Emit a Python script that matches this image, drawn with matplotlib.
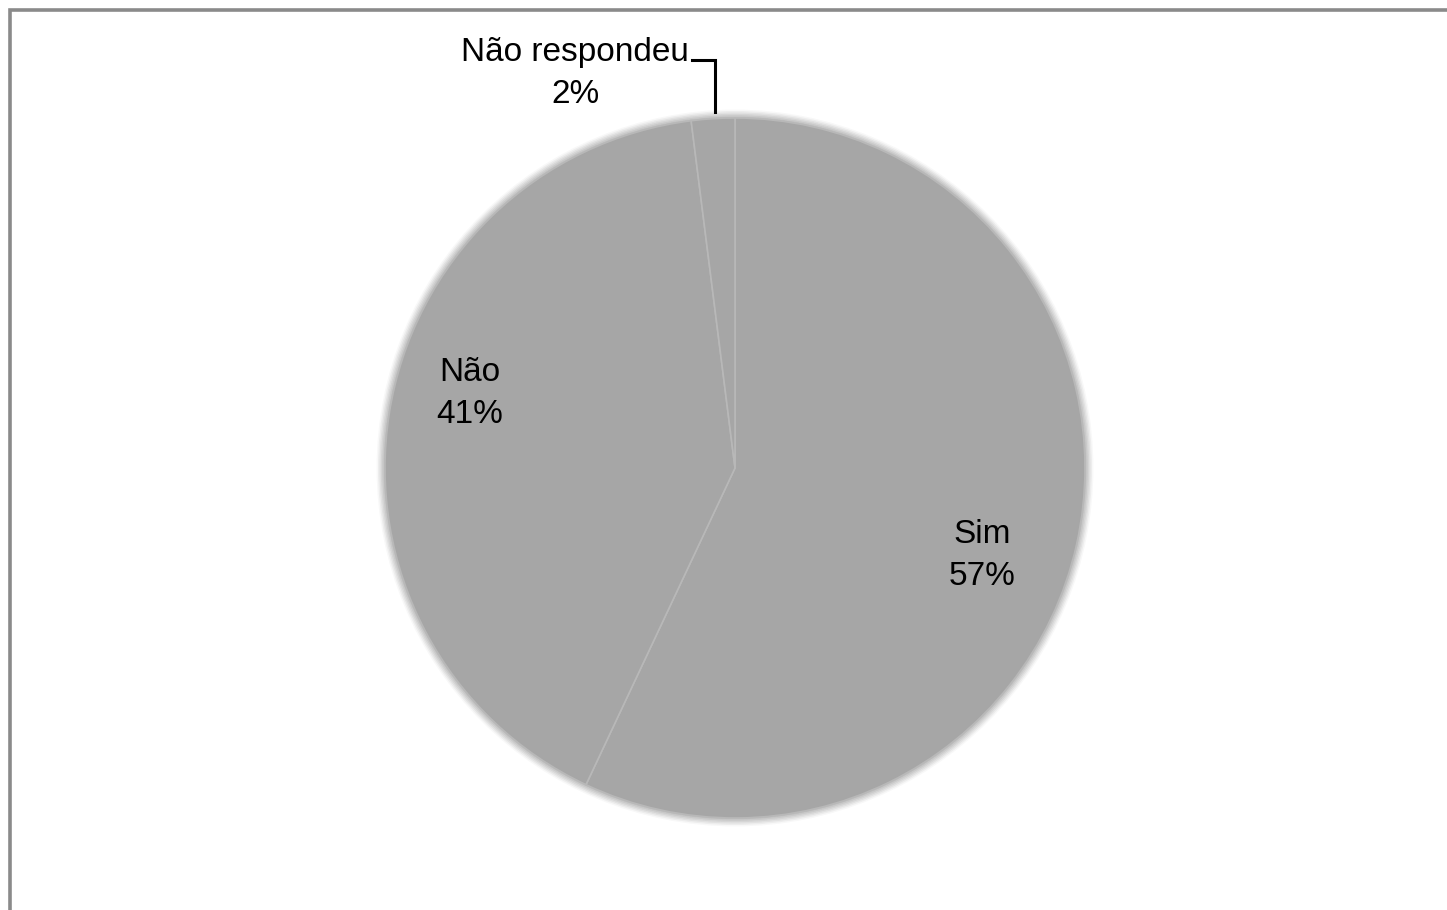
import matplotlib
matplotlib.use("Agg")
import matplotlib.pyplot as plt
from matplotlib.patches import Circle, Rectangle

# Survey answers
labels = ['Sim', 'Não', 'Não respondeu']
values = [57, 41, 2]
slice_color = '#a6a6a6'

plt.rcParams['font.family'] = ['Liberation Sans', 'DejaVu Sans']

W, H = 1447, 910
fig = plt.figure(figsize=(W / 100, H / 100), dpi=100)
fig.patch.set_facecolor('white')

# outer frame (runs off the right and bottom edges)
fig.add_artist(Rectangle((9.5 / W, -0.2), 1.5, 1.2 - 9.5 / H,
                         transform=fig.transFigure, fill=False,
                         edgecolor='#8a8a8a', linewidth=2.6))

# pie axes: center (735, 468) px, radius 350 px
cx, cy, r = 735, 468, 350
ax = fig.add_axes([(cx - r) / W, (H - cy - r) / H, 2 * r / W, 2 * r / H])

# soft edge around the pie
for k in range(6):
    ax.add_patch(Circle((0, 0), 1.0 + 0.004 * (k + 1), color=slice_color,
                        alpha=0.28 - 0.04 * k, linewidth=0, zorder=0,
                        clip_on=False))

wedges, _ = ax.pie(values, startangle=90, counterclock=False, radius=1.0,
                   colors=[slice_color] * len(values),
                   wedgeprops=dict(edgecolor='#b8b8b8', linewidth=1.2))
for w in wedges:
    w.set_zorder(1)
    w.set_clip_on(False)

ax.set_xlim(-1, 1)
ax.set_ylim(-1, 1)
ax.set_aspect('equal')
ax.axis('off')

fs = 24
ax.text(0.706, -0.250, 'Sim\n57%', ha='center', va='center', fontsize=fs,
        multialignment='center', linespacing=1.45)
ax.text(-0.757, 0.212, 'Não\n41%', ha='center', va='center', fontsize=fs,
        multialignment='center', linespacing=1.45)
ax.text(-0.457, 1.128, 'Não respondeu\n2%', ha='center', va='center',
        fontsize=fs, multialignment='center', linespacing=1.45, clip_on=False)

# leader line for the small slice
ax.plot([-0.122, -0.057, -0.057], [1.166, 1.166, 1.017], color='black',
        linewidth=2.2, clip_on=False, solid_joinstyle='miter')

fig.savefig('out.png', dpi=100, facecolor='white')
